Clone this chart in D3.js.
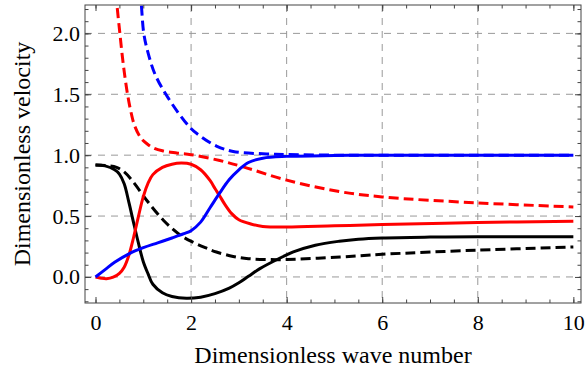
<!DOCTYPE html>
<html>
<head>
<meta charset="utf-8">
<script src="https://cdn.jsdelivr.net/npm/d3@7"></script>
<style>
  body { margin: 0; background: #fff; }
</style>
</head>
<body>
<div id="chart"></div>
<script>
// wave number / velocity pairs
let blackSolid = [
  [0, 0.92], [0.2, 0.912], [0.4, 0.88], [0.5, 0.845], [0.6, 0.765],
  [0.7, 0.61], [0.8, 0.44], [0.9, 0.275], [1.0, 0.125], [1.1, 0.025],
  [1.2, -0.06], [1.4, -0.13], [1.6, -0.16], [1.9, -0.175], [2.2, -0.166],
  [2.5, -0.137], [2.8, -0.092], [3.0, -0.048], [3.2, 0.005], [3.44, 0.068],
  [3.8, 0.143], [4.14, 0.205], [4.6, 0.26], [5.1, 0.293], [5.5, 0.31],
  [6, 0.32], [7, 0.327], [8, 0.33], [10, 0.33]
]
let blackDashed = [
  [0, 0.92], [0.2, 0.915], [0.44, 0.9], [0.6, 0.862], [0.79, 0.78],
  [1.07, 0.63], [1.42, 0.466], [1.77, 0.345], [2.04, 0.285], [2.3, 0.24],
  [2.53, 0.205], [2.88, 0.168], [3.2, 0.15], [3.58, 0.143], [4.0, 0.143],
  [5.12, 0.164], [6, 0.186], [8, 0.22], [10, 0.246]
]
let redSolid = [
  [0, 0], [0.12, -0.01], [0.23, -0.014], [0.37, -0.002], [0.5, 0.03],
  [0.6, 0.08], [0.7, 0.18], [0.8, 0.33], [0.9, 0.5], [1.0, 0.66],
  [1.1, 0.77], [1.2, 0.84], [1.4, 0.9], [1.6, 0.926], [1.8, 0.935],
  [2.0, 0.925], [2.2, 0.88], [2.4, 0.79], [2.5, 0.726], [2.6, 0.665],
  [2.7, 0.6], [2.85, 0.52], [3.0, 0.47], [3.25, 0.435], [3.5, 0.415],
  [4, 0.41], [5, 0.42], [6, 0.43], [8, 0.447], [10, 0.458]
]
let redDashed = [
  [0.43, 2.33], [0.45, 2.23], [0.51, 2.0], [0.58, 1.75], [0.67, 1.5],
  [0.75, 1.34], [0.82, 1.24], [0.95, 1.14], [1.07, 1.096], [1.2, 1.062],
  [1.4, 1.036], [1.7, 1.018], [2.0, 1.004], [2.6, 0.956], [3.09, 0.904],
  [4.0, 0.795], [5.12, 0.7], [6, 0.657], [8, 0.608], [10, 0.575]
]
let blueSolid = [
  [0, 0], [0.2, 0.06], [0.4, 0.12], [0.7, 0.19], [1.0, 0.24],
  [1.3, 0.28], [1.6, 0.32], [1.85, 0.355], [2.0, 0.38], [2.2, 0.45],
  [2.4, 0.57], [2.6, 0.69], [2.8, 0.8], [3.0, 0.88], [3.2, 0.94],
  [3.5, 0.975], [4, 0.99], [5, 0.997], [6, 1.0], [8, 1.0], [10, 1.0]
]
let blueDashed = [
  [0.93, 2.35], [0.96, 2.23], [1.01, 2.0], [1.1, 1.84], [1.25, 1.66],
  [1.52, 1.47], [1.97, 1.23], [2.18, 1.16], [2.53, 1.075], [2.88, 1.03],
  [3.58, 1.01], [4, 1.005], [5, 1.0], [6, 1.0], [8, 1.0], [10, 1.0]
]

let xTicks = [0, 2, 4, 6, 8, 10]
let yTicks = [0, 0.5, 1.0, 1.5, 2.0]
let xGrid = [2, 4, 6, 8]
let yGrid = [0, 0.5, 1.0, 1.5, 2.0]
let xMinor = d3.range(0, 10.01, 0.5)
let yMinor = d3.range(-0.2, 2.21, 0.1)

let series = [
  { name: 'black dashed', values: blackDashed, color: '#000', dashed: true },
  { name: 'black solid', values: blackSolid, color: '#000', dashed: false },
  { name: 'red dashed', values: redDashed, color: '#f00', dashed: true },
  { name: 'red solid', values: redSolid, color: '#f00', dashed: false },
  { name: 'blue dashed', values: blueDashed, color: '#00f', dashed: true },
  { name: 'blue solid', values: blueSolid, color: '#00f', dashed: false }
]

// a single family name; lists fall back to sans here
let serif = 'Liberation Serif'

let margin = { top: 5, left: 85, right: 4, bottom: 67 }
let width = 585 - margin.left - margin.right
let height = 370 - margin.top - margin.bottom

let svg = d3
  .select('#chart')
  .append('svg')
  .attr('width', width + margin.left + margin.right)
  .attr('height', height + margin.top + margin.bottom)
  .append('g')
  .attr('transform', `translate(${margin.left}, ${margin.top})`)

let xPositionScale = d3.scaleLinear().domain([-0.22, 10.16]).range([0, width])
let yPositionScale = d3.scaleLinear().domain([-0.214, 2.233]).range([height, 0])

svg
  .append('clipPath')
  .attr('id', 'plot-clip')
  .append('rect')
  .attr('width', width)
  .attr('height', height)

// grid
svg
  .selectAll('.x-grid')
  .data(xGrid)
  .enter()
  .append('line')
  .attr('class', 'x-grid')
  .attr('x1', d => xPositionScale(d))
  .attr('x2', d => xPositionScale(d))
  .attr('y1', 0)
  .attr('y2', height)
svg
  .selectAll('.y-grid')
  .data(yGrid)
  .enter()
  .append('line')
  .attr('class', 'y-grid')
  .attr('x1', 0)
  .attr('x2', width)
  .attr('y1', d => yPositionScale(d))
  .attr('y2', d => yPositionScale(d))
svg
  .selectAll('.x-grid, .y-grid')
  .attr('stroke', '#999')
  .attr('stroke-width', 1)
  .attr('stroke-dasharray', '7,6')

let line = d3
  .line()
  .x(d => xPositionScale(d[0]))
  .y(d => yPositionScale(d[1]))
  .curve(d3.curveCatmullRom.alpha(0.5))

svg
  .append('g')
  .attr('clip-path', 'url(#plot-clip)')
  .selectAll('.velocity-line')
  .data(series)
  .enter()
  .append('path')
  .attr('class', 'velocity-line')
  .attr('d', d => line(d.values))
  .attr('fill', 'none')
  .attr('stroke', d => d.color)
  .attr('stroke-width', 3)
  .attr('stroke-dasharray', d => (d.dashed ? '10,5' : null))

// frame with inward ticks on all four sides
function frameAxis(axis, transform) {
  let g = svg
    .append('g')
    .attr('class', 'axis')
    .attr('transform', transform)
    .call(axis)
  g.select('.domain').remove()
  g.selectAll('line').attr('stroke', '#444')
  return g
}

let bottom = frameAxis(
  d3.axisBottom(xPositionScale).tickValues(xTicks).tickSize(-6).tickPadding(11).tickFormat(d3.format('d')),
  `translate(0,${height})`
)
let left = frameAxis(
  d3.axisLeft(yPositionScale).tickValues(yTicks).tickSize(-6).tickPadding(5).tickFormat(d3.format('.1f')),
  'translate(0,0)'
)
bottom.attr('font-family', serif).selectAll('text').attr('font-family', serif).attr('font-size', 22).attr('fill', '#000')
left.attr('font-family', serif).selectAll('text').attr('font-family', serif).attr('font-size', 22).attr('fill', '#000')

frameAxis(d3.axisBottom(xPositionScale).tickValues(xMinor).tickSize(-3.5).tickFormat(''), `translate(0,${height})`)
frameAxis(d3.axisTop(xPositionScale).tickValues(xTicks).tickSize(-6).tickFormat(''), 'translate(0,0)')
frameAxis(d3.axisTop(xPositionScale).tickValues(xMinor).tickSize(-3.5).tickFormat(''), 'translate(0,0)')
frameAxis(d3.axisLeft(yPositionScale).tickValues(yMinor).tickSize(-3.5).tickFormat(''), 'translate(0,0)')
frameAxis(d3.axisRight(yPositionScale).tickValues(yTicks).tickSize(-6).tickFormat(''), `translate(${width},0)`)
frameAxis(d3.axisRight(yPositionScale).tickValues(yMinor).tickSize(-3.5).tickFormat(''), `translate(${width},0)`)

svg
  .append('rect')
  .attr('class', 'frame')
  .attr('width', width)
  .attr('height', height)
  .attr('fill', 'none')
  .attr('stroke', '#444')
  .attr('stroke-width', 1)

svg
  .append('text')
  .attr('class', 'x-title')
  .attr('font-family', serif)
  .attr('font-size', 24)
  .attr('text-anchor', 'middle')
  .attr('x', width / 2)
  .attr('y', height + 60)
  .text('Dimensionless wave number')

svg
  .append('text')
  .attr('class', 'y-title')
  .attr('font-family', serif)
  .attr('font-size', 24)
  .attr('text-anchor', 'middle')
  .attr('transform', `translate(${30 - margin.left},${height / 2}) rotate(-90)`)
  .text('Dimensionless velocity')
</script>
</body>
</html>
